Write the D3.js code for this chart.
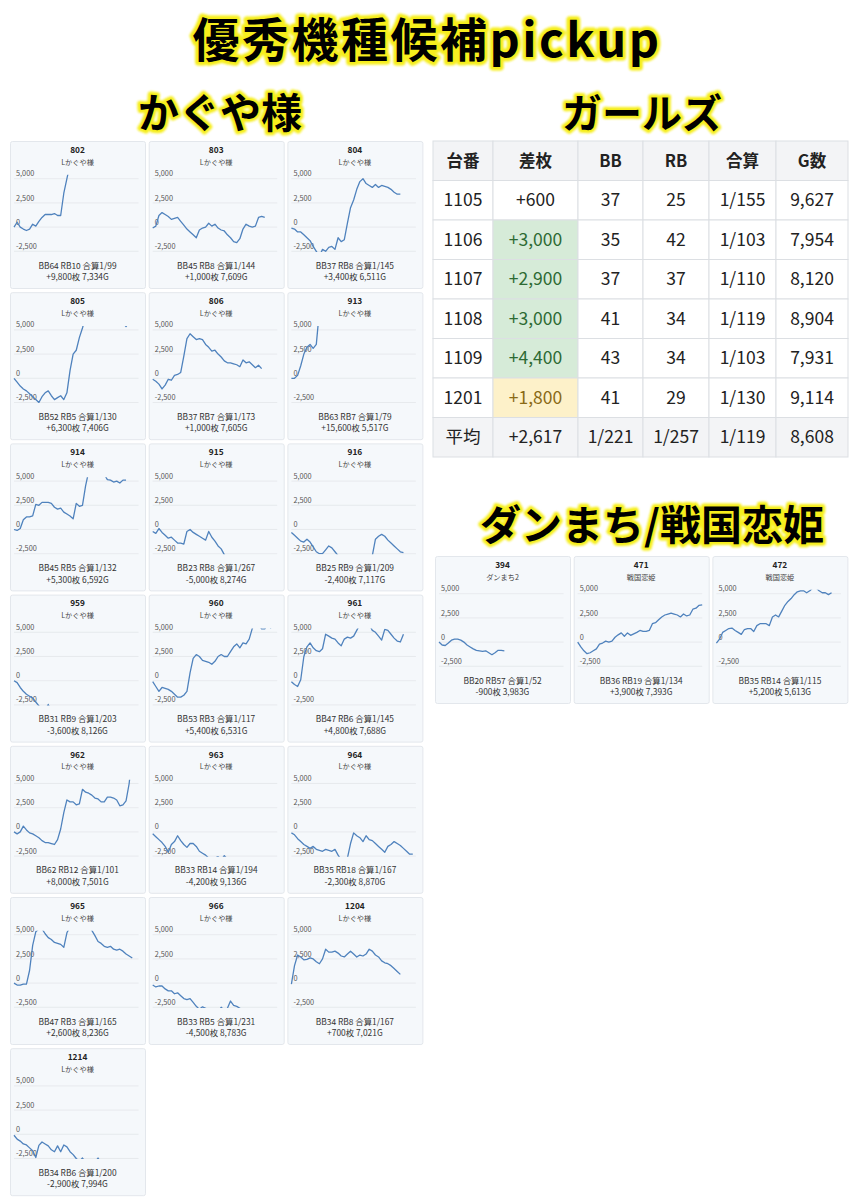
<!DOCTYPE html>
<html>
<head>
<meta charset="utf-8">
<script src="https://cdn.jsdelivr.net/npm/d3@7"></script>
<style>
  body { margin: 0; background: #fff; }
  svg { display: block; font-family: "Noto Sans CJK JP", "Noto Sans", sans-serif; }
</style>
</head>
<body>
<svg id="chart" width="856" height="1200"></svg>
<script>
// ---- かぐや様 machines ----
const kaguyaIds = [802, 803, 804, 805, 806, 913, 914, 915, 916, 959, 960, 961, 962, 963, 964, 965, 966, 1204, 1214];
const kaguyaBB = [64, 45, 37, 52, 37, 63, 45, 23, 25, 31, 53, 47, 62, 33, 35, 47, 33, 34, 34];
const kaguyaRB = [10, 8, 8, 5, 7, 7, 5, 8, 9, 9, 3, 6, 12, 14, 18, 3, 5, 8, 6];
const kaguyaGousei = [99, 144, 145, 130, 173, 79, 132, 267, 209, 203, 117, 145, 101, 194, 167, 165, 231, 167, 200];
const kaguyaSamai = [9800, 1000, 3400, 6300, 1000, 15600, 5300, -5000, -2400, -3600, 5400, 4800, 8000, -4200, -2300, 2600, -4500, 700, -2900];
const kaguyaGames = [7334, 7609, 6511, 7406, 7605, 5517, 6592, 8274, 7117, 8126, 6531, 7688, 7501, 9136, 8870, 8236, 8783, 7021, 7994];

// slump graphs (差枚 at regular time steps)
const s802 = [0,500,0,-200,-350,-200,300,100,600,1000,1300,1300,1300,1400,1200,1200,3500,5000,6500,7600,8400,9000,9800];
const s803 = [-100,100,1200,1500,1300,1100,800,900,1000,600,200,-200,-500,-800,-1100,-300,-100,0,400,100,300,-100,-300,-400,-800,-1100,-1500,-1600,-1200,-200,300,100,0,100,1000,1100,1000];
const s804 = [-100,-200,-500,-500,-800,-1100,-1400,-2000,-2500,-3000,-2300,-2500,-2100,-2000,-2300,-1100,-1500,-1300,400,2000,2800,3900,4700,5000,4500,4300,4100,4400,4100,4300,4200,4100,3900,3600,3400,3400];
const s805 = [0,-400,-800,-1100,-1300,-1600,-1900,-2200,-2500,-1900,-1500,-1300,-1800,-2200,-2000,-1800,-2200,-1500,800,2500,2900,4200,5200,6300,6800,7200,6900,6600,6400,6800,7000,6500,6100,5900,6000,5700,5350,5800,6300];
const s806 = [-100,-300,-600,-1100,-700,-100,-200,300,400,600,2300,4100,4600,4300,4000,4100,4000,3500,3200,2800,2900,2500,2200,1800,1600,1600,1500,1400,1200,1900,1600,1700,1400,1100,1350,1000];
const s913 = [0,0,300,1300,2500,3200,3500,3100,3500,7000,9500,12000,13500,15600];
const s914 = [0,-100,100,1000,1300,1300,1400,2600,2500,2800,2800,2800,2700,2300,2100,2200,1800,1600,1400,1100,2700,2400,2500,4500,6000,6500,6200,5900,5800,5700,5150,5100,4900,5000,4800,5100,5100];
const s915 = [-200,-400,100,-300,-600,-900,-800,-1100,-1400,-1400,-1500,-200,0,-300,-500,-700,-900,-1100,-200,-800,-1200,-1700,-2000,-2600,-3100,-3500,-4000,-4500,-5000];
const s916 = [-300,-600,-900,-1200,-1300,-1000,-1300,-1800,-2300,-2500,-2500,-2100,-1700,-1900,-2300,-2700,-3100,-3400,-3600,-3800,-3700,-3900,-4000,-3800,-3600,-3300,-2700,-1000,-700,-500,-700,-1100,-1400,-1700,-2000,-2300,-2400];
const s959 = [0,-200,-700,-1100,-1400,-1600,-1800,-2200,-2600,-3000,-3100,-2450,-3200,-3300,-3500,-3400,-3600,-3700,-3500,-3600];
const s960 = [-100,-600,-1100,-700,-800,-900,-1100,-1400,-1700,-1700,-1500,-1100,800,2300,2700,2500,2100,2000,1900,1700,2000,2500,2700,2500,2500,3000,3500,3800,3400,3900,3800,4300,5400,6000,5800,5350,5350,5800,5400];
const s961 = [-100,-400,-600,100,2500,3500,3900,3400,3100,3000,3300,4800,4600,4400,4300,3900,3600,4300,4500,4400,4600,5200,5800,6000,6000,5800,5200,5000,4600,4200,5300,5200,4800,4400,4100,4000,4800];
const s962 = [0,-200,0,600,200,-100,-200,-400,-600,-900,-1100,-1100,-1200,-1300,-800,300,2000,3300,3100,3100,2800,2900,4400,4100,4000,3800,3500,3400,3100,3100,3600,3600,3500,3300,2700,2800,3200,5000,8000];
const s963 = [-200,-500,-800,-1100,-1500,-2100,-1300,-1000,-400,-900,-1300,-1600,-1200,-1200,-1500,-2000,-2200,-2400,-2700,-2900,-2700,-2550,-2900,-2450,-2800,-3000,-3200,-3400,-3500,-3700,-3800,-4000,-4100,-4200];
const s964 = [-100,-300,-700,-1000,-1300,-1500,-1700,-1500,-1800,-1900,-2000,-1800,-1900,-2000,-1800,-2400,-2900,-3000,-2700,-1200,-100,-400,-600,-1000,-400,-800,-900,-1200,-1500,-1800,-2100,-1500,-1300,-1000,-1200,-1400,-1700,-2000,-2300,-2300];
const s965 = [0,-200,-200,-100,-100,1300,3900,5300,5600,5600,5100,4700,4500,4200,4100,4000,3700,5200,5800,6200,6500,6400,6200,6000,5800,5450,4900,4300,4100,3800,3700,3800,3500,3400,3500,3300,3000,2800,2600];
const s966 = [-200,-400,-300,-300,-600,-800,-800,-1100,-1000,-1300,-1600,-1700,-1600,-2000,-2400,-2700,-2450,-2600,-2900,-3000,-3100,-2900,-2500,-2800,-2600,-1850,-2300,-2400,-2600,-2900,-3200,-3500,-3700,-3900,-4100,-4300,-4500];
const s1204 = [-100,1800,2900,2700,2400,2450,2600,2500,2200,2000,2500,3500,3200,3200,3300,3100,2800,2700,3000,3300,3000,2700,2900,2800,3000,3500,3300,2900,2700,2300,2100,2000,1800,1500,1200,900];
const s1214 = [-100,-500,-700,-1000,-1100,-1400,-1700,-2400,-1150,-800,-1000,-1200,-1600,-1800,-1200,-1800,-1100,-1300,-1800,-2100,-2500,-2800,-2450,-2900,-3000,-3100,-2900,-2450,-3000,-3200,-3100,-3000,-2900];
const kaguyaSeries = [s802, s803, s804, s805, s806, s913, s914, s915, s916, s959, s960, s961, s962, s963, s964, s965, s966, s1204, s1214];

// ---- ダンまち / 戦国恋姫 ----
const otherIds = [394, 471, 472];
const otherNames = ["ダンまち2", "戦国恋姫", "戦国恋姫"];
const otherBB = [20, 36, 35];
const otherRB = [57, 19, 14];
const otherGousei = [52, 134, 115];
const otherSamai = [-900, 3900, 5200];
const otherGames = [3983, 7393, 5613];
const s394 = [0,-300,-350,-100,200,300,300,200,0,-300,-500,-700,-850,-900,-950,-900,-1100,-1300,-1100,-850,-850,-900];
const s471 = [0,-500,-900,-1200,-1100,-900,-700,-200,-100,100,0,100,500,750,950,600,950,700,850,1000,1200,1100,1100,1200,1900,2000,2300,2600,2800,2900,3000,2900,2800,2600,2900,2700,2800,3400,3500,3800,3850];
const s472 = [-100,300,1000,1200,1400,1450,1200,1000,800,1300,1400,1400,1100,1700,1900,1900,1900,1700,2600,2800,2600,3200,3800,4200,4500,4900,5200,5300,5300,5100,5300,5600,5600,5300,5100,5100,4900,5100];
const otherSeries = [s394, s471, s472];

// ---- ガールズ table ----
const tableHeader = ["台番", "差枚", "BB", "RB", "合算", "G数"];
const girlsIds = [1105, 1106, 1107, 1108, 1109, 1201];
const girlsSamai = [600, 3000, 2900, 3000, 4400, 1800];
const girlsBB = [37, 35, 37, 41, 43, 41];
const girlsRB = [25, 42, 37, 34, 34, 29];
const girlsGousei = [155, 103, 110, 119, 103, 130];
const girlsGames = [9627, 7954, 8120, 8904, 7931, 9114];
const girlsAverage = ["平均", 2617, 221, 257, 119, 8608];

const yTicks = [5000, 2500, 0, -2500];
const X_STEPS = 40;

const comma = d3.format(",");
const num = v => (v < 0 ? "-" : "") + comma(Math.abs(v));
const signed = v => (v > 0 ? "+" : "") + num(v);

const svg = d3.select("#chart");

// ---- headings with yellow glow ----
function heading(text, x, y, size, spacing) {
  const g = svg.append("g").attr("font-weight", 700).attr("font-size", size)
    .attr("text-anchor", "middle").attr("letter-spacing", spacing || 0);
  g.append("text").attr("x", x).attr("y", y).text(text)
    .attr("fill", "#f6ee1a").attr("stroke", "#f6ee1a")
    .attr("stroke-width", size * 0.15).attr("stroke-linejoin", "round")
    .attr("filter", "url(#glow)");
  g.append("text").attr("x", x).attr("y", y).text(text).attr("fill", "#000");
}
svg.append("defs").append("filter").attr("id", "glow")
  .attr("x", "-10%").attr("y", "-20%").attr("width", "120%").attr("height", "140%")
  .append("feGaussianBlur").attr("stdDeviation", 0.8);

heading("優秀機種候補pickup", 427, 57, 47, 2.5);
heading("かぐや様", 220, 128, 41);
heading("ガールズ", 642, 128, 40);
heading("ダンまち/戦国恋姫", 652, 540, 41);

// ---- slump panels ----
const PW = 135, PH = 147;
const x = d3.scaleLinear().domain([0, X_STEPS]).range([4, 128.5]);
const y = d3.scaleLinear().domain([-2500, 5000]).range([110.3, 37.7]);
const line = d3.line().x((d, i) => x(i)).y(d => y(d));
let clipCount = 0;

function drawPanel(px, py, id, name, series, bb, rb, gousei, samai, games) {
  const g = svg.append("g").attr("transform", `translate(${px},${py})`);
  g.append("rect").attr("x", 0.5).attr("y", 0.5).attr("width", PW).attr("height", PH)
    .attr("rx", 2).attr("fill", "#f5f8fb").attr("stroke", "#e3e7ec");
  g.append("text").attr("x", PW / 2).attr("y", 11.8).attr("text-anchor", "middle")
    .attr("font-size", 8.3).attr("font-weight", 700).attr("fill", "#222").text(id);
  g.append("text").attr("x", PW / 2).attr("y", 23.6).attr("text-anchor", "middle")
    .attr("font-size", 7.2).attr("fill", "#444").text(name);

  g.selectAll("line.grid").data(yTicks).enter().append("line")
    .attr("x1", x(0)).attr("x2", x(X_STEPS))
    .attr("y1", d => y(d)).attr("y2", d => y(d))
    .attr("stroke", "#e3e6ea").attr("stroke-width", 0.8);
  g.selectAll("text.tick").data(yTicks).enter().append("text")
    .attr("x", 6).attr("y", d => y(d) - 2.4)
    .attr("font-size", 7.3).attr("fill", "#555").text(num);

  const cid = "clip" + (clipCount++);
  g.append("clipPath").attr("id", cid).append("rect")
    .attr("x", 0).attr("width", PW)
    .attr("y", y(5400)).attr("height", y(-2560) - y(5400));
  g.append("path").datum(series).attr("d", line)
    .attr("clip-path", `url(#${cid})`)
    .attr("fill", "none").attr("stroke", "#4f82bd").attr("stroke-width", 1.3)
    .attr("stroke-linejoin", "round");

  g.append("text").attr("x", PW / 2).attr("y", 127.6).attr("text-anchor", "middle")
    .attr("font-size", 8.4).attr("fill", "#333")
    .text(`BB${bb} RB${rb} 合算1/${gousei}`);
  g.append("text").attr("x", PW / 2).attr("y", 139.3).attr("text-anchor", "middle")
    .attr("font-size", 8.4).attr("fill", "#333")
    .text(`${signed(samai)}枚 ${comma(games)}G`);
}

kaguyaIds.forEach((id, i) => {
  const col = i % 3, row = Math.floor(i / 3);
  drawPanel(10 + col * 138.7, 141 + row * 151.2, id, "Lかぐや様", kaguyaSeries[i],
    kaguyaBB[i], kaguyaRB[i], kaguyaGousei[i], kaguyaSamai[i], kaguyaGames[i]);
});
otherIds.forEach((id, i) => {
  drawPanel(435 + i * 138.7, 556, id, otherNames[i], otherSeries[i],
    otherBB[i], otherRB[i], otherGousei[i], otherSamai[i], otherGames[i]);
});

// ---- ガールズ table ----
const colW = [60, 85, 65, 66, 67, 72];
const colX = colW.reduce((a, w) => (a.push(a[a.length - 1] + w), a), [433]);
const ROW_H = 39.5, TOP = 141;
const rows = [tableHeader].concat(girlsIds.map((id, i) => [
  id, signed(girlsSamai[i]), girlsBB[i], girlsRB[i], "1/" + girlsGousei[i], comma(girlsGames[i])
])).concat([[girlsAverage[0], signed(girlsAverage[1]), "1/" + girlsAverage[2],
  "1/" + girlsAverage[3], "1/" + girlsAverage[4], comma(girlsAverage[5])]]);

const tg = svg.append("g");
rows.forEach((r, ri) => {
  const isHead = ri === 0, isAvg = ri === rows.length - 1;
  r.forEach((v, ci) => {
    let bg = (isHead || isAvg) ? "#f3f4f6" : "#fff", fg = "#222";
    if (!isHead && !isAvg && ci === 1) {
      const s = girlsSamai[ri - 1];
      if (s >= 2000) { bg = "#d6ebd8"; fg = "#2d6a33"; }
      else if (s >= 1000) { bg = "#fdf1c9"; fg = "#8a6a16"; }
    }
    tg.append("rect").attr("x", colX[ci]).attr("y", TOP + ri * ROW_H)
      .attr("width", colW[ci]).attr("height", ROW_H)
      .attr("fill", bg).attr("stroke", "#dcdfe3").attr("stroke-width", 1);
    tg.append("text").attr("x", colX[ci] + colW[ci] / 2).attr("y", TOP + ri * ROW_H + ROW_H / 2 + 6)
      .attr("text-anchor", "middle").attr("font-size", isHead ? 16.5 : 17.5)
      .attr("font-weight", isHead ? 700 : 400).attr("fill", fg).text(v);
  });
});
</script>
</body>
</html>
